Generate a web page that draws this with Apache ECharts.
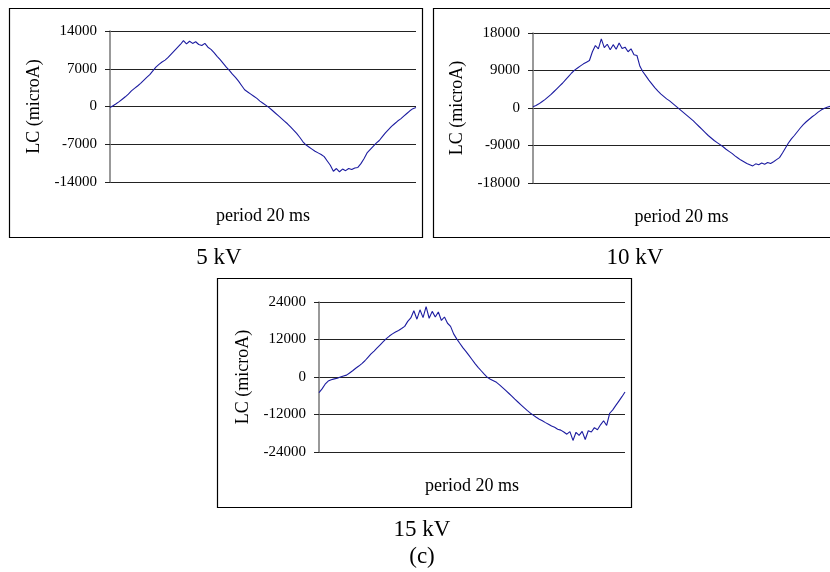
<!DOCTYPE html>
<html>
<head>
<meta charset="utf-8">
<script src="https://cdn.jsdelivr.net/npm/echarts@6/dist/echarts.min.js"></script>
<style>
  html, body { margin: 0; padding: 0; background: #fff; }
  #chart { width: 830px; height: 572px; }
</style>
</head>
<body>
<div id="chart"></div>
<script>
// Leakage current over one 20 ms period, sampled every 0.2 ms, at three test voltages.
const timeMs = Array.from({ length: 101 }, (_, i) => +(i * 0.2).toFixed(1));

const current5kV = [
  -200, 150, 500, 900, 1350, 1800, 2300, 2900, 3350, 3800,
  4300, 4850, 5400, 5900, 6600, 7300, 7800, 8250, 8600, 9100,
  9700, 10300, 10900, 11500, 12200, 11600, 12100, 11700, 12000, 11500,
  11300, 11700, 11000, 10600, 10000, 9300, 8700, 8000, 7300, 6700,
  6000, 5400, 4700, 3900, 3100, 2700, 2300, 1900, 1500, 1000,
  600, 200, -200, -700, -1200, -1700, -2200, -2700, -3200, -3800,
  -4400, -5000, -5700, -6500, -7100, -7500, -7900, -8300, -8600, -8900,
  -9300, -10100, -10900, -12000, -11500, -12100, -11600, -11900, -11500, -11700,
  -11400, -11300, -10600, -9700, -8600, -8000, -7400, -6800, -6300, -5600,
  -4900, -4300, -3700, -3200, -2700, -2300, -1800, -1300, -800, -400,
  -200
];

const current10kV = [
  300, 600, 1000, 1500, 2000, 2600, 3200, 3900, 4600, 5300,
  6000, 6800, 7600, 8400, 9100, 9600, 10100, 10600, 11000, 11400,
  13500, 15000, 14200, 16600, 14500, 15300, 14000, 15200, 14100, 15600,
  14300, 14600, 13500, 14200, 12800, 12600, 10000, 8700, 7700, 6700,
  5800, 4900, 4100, 3400, 2800, 2200, 1700, 1100, 500, -100,
  -700, -1300, -1900, -2500, -3100, -3800, -4500, -5200, -5900, -6600,
  -7200, -7800, -8300, -8800, -9300, -9900, -10400, -10900, -11500, -12000,
  -12500, -12900, -13300, -13600, -13900, -13400, -13600, -13200, -13500, -13100,
  -13300, -12900, -12400, -11900, -10800, -9600, -8400, -7400, -6600, -5700,
  -4800, -4000, -3300, -2700, -2100, -1600, -1000, -500, -100, 200,
  400
];

const current15kV = [
  -5000, -3800, -2300, -1300, -900, -600, -400, 0, 300, 600,
  1300, 2000, 2800, 3500, 4300, 5200, 6300, 7400, 8300, 9300,
  10300, 11300, 12300, 13100, 13800, 14400, 14900, 15500, 16200, 17800,
  18900, 21200, 18500, 21500, 19000, 22500, 18800, 21000, 19200, 20800,
  18100, 19200, 17200, 16200, 13800, 12200, 10800, 9400, 8200, 6900,
  5600, 4300, 3100, 2000, 900, -100, -700, -1200, -1700, -2500,
  -3400, -4300, -5200, -6100, -7100, -8000, -8900, -9800, -10700, -11500,
  -12200, -12900, -13500, -14000, -14600, -15100, -15700, -16100, -16700, -17000,
  -17600, -18300, -17500, -20300, -17700, -18700, -17400, -20000, -17200, -17600,
  -16200, -16900, -15300, -14000, -15500, -11600, -10500, -9100, -7700, -6300,
  -4800
];

// Y-axis tick labels of each panel
const ticks5kV = [-14000, -7000, 0, 7000, 14000];
const ticks10kV = [-18000, -9000, 0, 9000, 18000];
const ticks15kV = [-24000, -12000, 0, 12000, 24000];

const captions = ['5 kV', '10 kV', '15 kV'];
const yName = 'LC (microA)';
const xName = 'period 20 ms';

const FONT = '"Liberation Serif", "Times New Roman", serif';
const LINE_COLOR = '#1c1ca0';

const panels = [
  { values: current5kV, ticks: ticks5kV, grid: { left: 110, top: 31, width: 306, height: 151 } },
  { values: current10kV, ticks: ticks10kV, grid: { left: 533, top: 33, width: 306, height: 150 } },
  { values: current15kV, ticks: ticks15kV, grid: { left: 319, top: 302, width: 306, height: 150 } }
];

const chart = echarts.init(document.getElementById('chart'), null, { renderer: 'canvas' });

const option = {
  animation: false,
  backgroundColor: '#ffffff',
  grid: panels.map(p => Object.assign({ containLabel: false }, p.grid)),
  xAxis: panels.map((p, i) => ({
    type: 'value',
    gridIndex: i,
    min: timeMs[0],
    max: timeMs[timeMs.length - 1],
    name: xName,
    nameLocation: 'middle',
    nameGap: 25,
    nameTextStyle: { fontFamily: FONT, fontSize: 18, color: '#000' },
    axisLine: { show: false },
    axisTick: { show: false },
    axisLabel: { show: false },
    splitLine: { show: false }
  })),
  yAxis: panels.map((p, i) => ({
    type: 'value',
    gridIndex: i,
    min: p.ticks[0],
    max: p.ticks[p.ticks.length - 1],
    interval: p.ticks[1] - p.ticks[0],
    name: yName,
    nameLocation: 'middle',
    nameRotate: 90,
    nameGap: 67,
    nameTextStyle: { fontFamily: FONT, fontSize: 18, color: '#000' },
    axisLine: { show: true, lineStyle: { color: '#777', width: 1.5 } },
    axisTick: { show: true, length: 5, lineStyle: { color: '#222', width: 1 } },
    axisLabel: {
      margin: 13, fontFamily: FONT, fontSize: 15, color: '#000',
      formatter: v => String(v)
    },
    splitLine: { show: true, lineStyle: { color: '#222', width: 1 } }
  })),
  series: panels.map((p, i) => ({
    type: 'line',
    xAxisIndex: i,
    yAxisIndex: i,
    data: timeMs.map((t, k) => [t, p.values[k]]),
    showSymbol: false,
    clip: true,
    lineStyle: { color: LINE_COLOR, width: 1.1 },
    z: 3
  })),
  graphic: [
    // frames around the three panels
    { type: 'rect', shape: { x: 9.5, y: 8.5, width: 413, height: 229 }, style: { fill: null, stroke: '#000', lineWidth: 1.2 } },
    { type: 'rect', shape: { x: 433.5, y: 8.5, width: 413, height: 229 }, style: { fill: null, stroke: '#000', lineWidth: 1.2 } },
    { type: 'rect', shape: { x: 217.5, y: 278.5, width: 414, height: 229 }, style: { fill: null, stroke: '#000', lineWidth: 1.2 } },
    // voltage captions
    { type: 'text', x: 219, y: 258, style: { text: captions[0], font: '23px ' + FONT, fill: '#000', textAlign: 'center', textVerticalAlign: 'middle' } },
    { type: 'text', x: 635, y: 258, style: { text: captions[1], font: '23px ' + FONT, fill: '#000', textAlign: 'center', textVerticalAlign: 'middle' } },
    { type: 'text', x: 422, y: 530, style: { text: captions[2], font: '23px ' + FONT, fill: '#000', textAlign: 'center', textVerticalAlign: 'middle' } },
    { type: 'text', x: 422, y: 557, style: { text: '(c)', font: '23px ' + FONT, fill: '#000', textAlign: 'center', textVerticalAlign: 'middle' } }
  ]
};

chart.setOption(option);
</script>
</body>
</html>
